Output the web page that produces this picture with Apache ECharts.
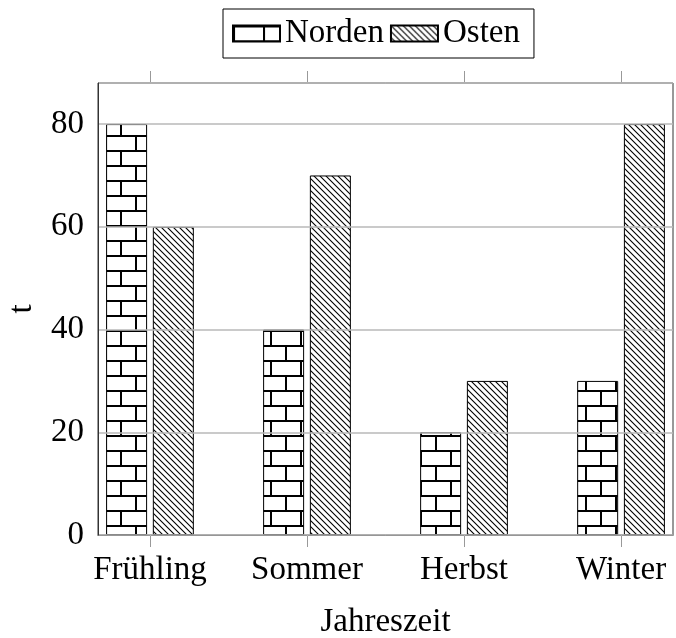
<!DOCTYPE html>
<html>
<head>
<meta charset="utf-8">
<script src="https://cdn.jsdelivr.net/npm/echarts@6/dist/echarts.min.js"></script>
<style>
html, body { margin: 0; padding: 0; background: #fff; }
#chart { width: 676px; height: 638px; }
</style>
</head>
<body>
<div id="chart"></div>
<script>
var seasons = ['Frühling', 'Sommer', 'Herbst', 'Winter'];
var nordenValues = [80, 40, 20, 30];
var ostenValues = [60, 70, 30, 80];
var yTicks = [0, 20, 40, 60, 80];

var FONT = '"Liberation Serif", "DejaVu Serif", serif';

// brick pattern for Norden
function brickPattern() {
	var c = document.createElement('canvas');
	c.width = 30;
	c.height = 30;
	var ctx = c.getContext('2d');
	ctx.fillStyle = '#fff';
	ctx.fillRect(0, 0, 30, 30);
	ctx.fillStyle = '#000';
	ctx.fillRect(0, 0, 30, 2);
	ctx.fillRect(0, 15, 30, 2);
	ctx.fillRect(0, 0, 2, 15);
	ctx.fillRect(15, 15, 2, 15);
	return c;
}

// north west lines for Osten
function hatchPattern() {
	var s = 6;
	var c = document.createElement('canvas');
	c.width = s;
	c.height = s;
	var ctx = c.getContext('2d');
	ctx.fillStyle = '#fff';
	ctx.fillRect(0, 0, s, s);
	ctx.strokeStyle = '#000';
	ctx.lineWidth = 1.1;
	ctx.beginPath();
	ctx.moveTo(-1, -1); ctx.lineTo(s + 1, s + 1);
	ctx.moveTo(-1, s - 1); ctx.lineTo(1, s + 1);
	ctx.moveTo(s - 1, -1); ctx.lineTo(s + 1, 1);
	ctx.stroke();
	return c;
}

var nordenData = [];
var ostenData = [];
for (var i = 0; i < seasons.length; i++) {
	nordenData.push([i, nordenValues[i]]);
	ostenData.push([i, ostenValues[i]]);
}
var catPos = seasons.map(function (s, i) { return i; });

var chart = echarts.init(document.getElementById('chart'));

var option = {
	animation: false,
	textStyle: { fontFamily: FONT },
	legend: {
		left: 223,
		top: 9,
		padding: [8, 14, 8, 9],
		itemGap: 6,
		itemWidth: 47,
		itemHeight: 16,
		icon: 'rect',
		borderColor: '#000',
		borderWidth: 1,
		backgroundColor: '#fff',
		textStyle: { fontFamily: FONT, fontSize: 33, color: '#000' },
		data: ['Norden', 'Osten']
	},
	grid: {
		left: 98,
		right: 3,
		top: 83,
		bottom: 103,
		show: true,
		borderColor: '#333',
		borderWidth: 1,
		containLabel: false,
		outerBoundsMode: 'none'
	},
	xAxis: [{
		type: 'value',
		min: -0.331,
		max: 3.331,
		position: 'bottom',
		name: 'Jahreszeit',
		nameLocation: 'middle',
		nameGap: 71,
		nameTextStyle: { fontFamily: FONT, fontSize: 33, color: '#000', verticalAlign: 'top' },
		axisLine: { show: true, onZero: false, lineStyle: { color: '#333', width: 1 } },
		axisTick: { show: true, inside: false, customValues: catPos, length: 12, lineStyle: { color: '#999', width: 1 } },
		axisLabel: {
			customValues: catPos,
			margin: 19,
			fontFamily: FONT,
			fontSize: 33,
			color: '#000',
			formatter: function (v) { return seasons[Math.round(v)]; }
		},
		splitLine: { show: false }
	}, {
		type: 'value',
		min: -0.331,
		max: 3.331,
		position: 'top',
		axisLine: { show: false, onZero: false },
		axisTick: { show: true, inside: false, customValues: catPos, length: 12, lineStyle: { color: '#999', width: 1 } },
		axisLabel: { show: false },
		splitLine: { show: false }
	}],
	yAxis: {
		type: 'value',
		min: 0,
		max: 88,
		interval: 20,
		z: 3,
		name: 't',
		nameLocation: 'middle',
		nameGap: 59,
		nameRotate: 90,
		nameTextStyle: { fontFamily: FONT, fontSize: 33, color: '#000' },
		axisLine: { show: true, onZero: false, lineStyle: { color: '#333', width: 1 } },
		axisTick: { show: false },
		axisLabel: {
			customValues: yTicks,
			margin: 14,
			fontFamily: FONT,
			fontSize: 33,
			color: '#000'
		},
		splitLine: { show: true, lineStyle: { color: '#b8b8b8', width: 1.5 } }
	},
	series: [{
		name: 'Norden',
		type: 'bar',
		xAxisIndex: 0,
		barWidth: 41,
		barGap: '14%',
		itemStyle: {
			color: { image: brickPattern(), repeat: 'repeat' },
			borderColor: '#000',
			borderWidth: 1
		},
		data: nordenData
	}, {
		name: 'Osten',
		type: 'bar',
		xAxisIndex: 0,
		barWidth: 41,
		barGap: '14%',
		itemStyle: {
			color: { image: hatchPattern(), repeat: 'repeat' },
			borderColor: '#000',
			borderWidth: 1
		},
		data: ostenData
	}]
};

chart.setOption(option);
</script>
</body>
</html>
